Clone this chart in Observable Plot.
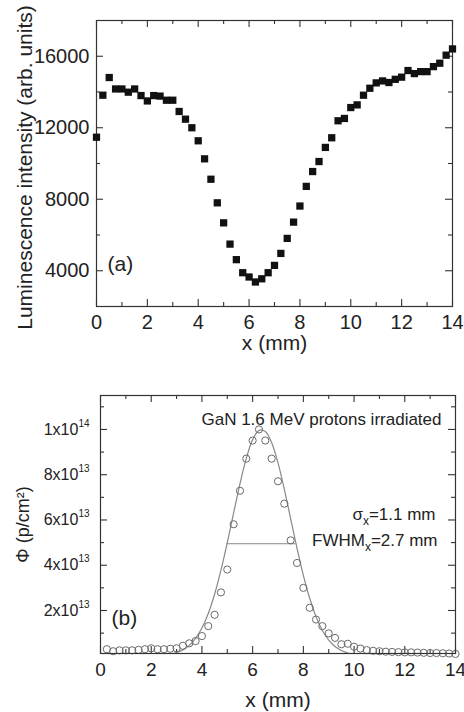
<!DOCTYPE html>
<html><head><meta charset="utf-8">
<script src="https://cdn.jsdelivr.net/npm/d3@7"></script>
<script src="https://cdn.jsdelivr.net/npm/@observablehq/plot@0.6"></script>
<style>
html,body{margin:0;padding:0;background:#fff;}
#chart{width:464px;}
#chart svg{display:block;}
</style></head><body><div id="chart"></div>
<script>
// ---- Panel (a): luminescence intensity profile ----
const xA = [0,0.25,0.5,0.75,1,1.25,1.5,1.75,2,2.25,2.5,2.75,3,3.25,3.5,3.75,4,4.25,4.5,4.75,5,5.25,5.5,5.75,6,6.25,6.5,6.75,7,7.25,7.5,7.75,8,8.25,8.5,8.75,9,9.25,9.5,9.75,10,10.25,10.5,10.75,11,11.25,11.5,11.75,12,12.25,12.5,12.75,13,13.25,13.5,13.75,14];
const yA = [11470,13820,14810,14170,14170,13990,14170,13800,13500,13800,13770,13540,13540,12910,12480,12000,11270,10260,9120,7800,6680,5490,4620,3890,3650,3370,3550,3890,4300,4970,5810,6720,7620,8720,9550,10110,10900,11440,12390,12520,13130,13280,13820,14210,14510,14620,14530,14710,14830,15200,15030,15140,15140,15420,15610,16060,16410];

// ---- Panel (b): fluence profile, values in units of 1e13 p/cm^2 ----
const xB = [0.25,0.5,0.75,1,1.25,1.5,1.75,2,2.25,2.5,2.75,3,3.25,3.5,3.75,4,4.25,4.5,4.75,5,5.25,5.5,5.75,6,6.25,6.5,6.75,7,7.25,7.5,7.75,8,8.25,8.5,8.75,9,9.25,9.5,9.75,10,10.25,10.5,10.75,11,11.25,11.5,11.75,12,12.25,12.5,12.75,13,13.25,13.5,13.75,14];
const phiB = [0.29,0.20,0.24,0.24,0.24,0.26,0.29,0.33,0.29,0.29,0.31,0.33,0.44,0.55,0.65,0.87,1.31,1.81,2.80,3.81,5.81,7.29,8.71,9.51,10.0,9.51,8.71,7.71,6.72,5.10,4.10,3.00,2.12,1.60,1.31,0.99,0.79,0.51,0.53,0.40,0.32,0.25,0.22,0.20,0.18,0.17,0.16,0.15,0.15,0.14,0.13,0.12,0.12,0.11,0.10,0.08];
// fitted curve
const xFit = [2.75,3,3.25,3.5,3.75,4,4.25,4.5,4.75,5,5.25,5.5,5.75,6,6.25,6.5,6.75,7,7.25,7.5,7.75,8,8.25,8.5,8.75,9,9.25,9.5,9.75,10];
const phiFit = [0.07,0.14,0.26,0.46,0.77,1.23,1.87,2.72,3.78,5.0,6.31,7.6,8.72,9.55,9.96,9.91,9.41,8.52,7.35,6.05,4.75,3.55,2.54,1.73,1.12,0.69,0.41,0.23,0.12,0.06];
const fwhmX = [5.0, 7.7];
const halfMax = 4.95;

// ---- ticks ----
const xTicksMajor = [0,2,4,6,8,10,12,14];
const xTicksMinor = [1,3,5,7,9,11,13];
const yTicksA = [4000,8000,12000,16000];
const yMinorA = [6000,10000,14000];
const yTicksB = [2,4,6,8,10];
const yTickLabelsB = ["2x10|13","4x10|13","6x10|13","8x10|13","1x10|14"];
const yMinorB = [1,3,5,7,9,11];

const FONT = "'Liberation Sans', Arial, Helvetica, sans-serif";
const INK = "#222";
const AXIS = "#333";

function frameTicks(fw, fh) {
  const o = {stroke: AXIS, strokeWidth: 1.1};
  return [
    Plot.ruleX(xTicksMajor, {x: d => d, insetTop: fh - 7, ...o}),
    Plot.ruleX(xTicksMajor, {x: d => d, insetBottom: fh - 7, ...o}),
    Plot.ruleX(xTicksMinor, {x: d => d, insetTop: fh - 4, ...o}),
    Plot.ruleX(xTicksMinor, {x: d => d, insetBottom: fh - 4, ...o})
  ];
}
function yFrameTicks(fw, major, minor) {
  const o = {stroke: AXIS, strokeWidth: 1.1};
  return [
    Plot.ruleY(major, {y: d => d, insetRight: fw - 7, ...o}),
    Plot.ruleY(major, {y: d => d, insetLeft: fw - 7, ...o}),
    Plot.ruleY(minor, {y: d => d, insetRight: fw - 4, ...o}),
    Plot.ruleY(minor, {y: d => d, insetLeft: fw - 4, ...o})
  ];
}

// Panel (a)
const mA = {top: 20, right: 12, bottom: 50, left: 96};
const WA = 464, HA = 356;
const fwA = WA - mA.left - mA.right, fhA = HA - mA.top - mA.bottom;
const dataA = xA.map((x, i) => ({x, y: yA[i]}));

const plotA = Plot.plot({
  width: WA, height: HA,
  marginTop: mA.top, marginRight: mA.right, marginBottom: mA.bottom, marginLeft: mA.left,
  style: {fontFamily: FONT, color: INK, background: "#fff"},
  x: {domain: [0, 14], axis: null},
  y: {domain: [2000, 18000], axis: null},
  marks: [
    ...frameTicks(fwA, fhA),
    ...yFrameTicks(fwA, yTicksA, yMinorA),
    Plot.frame({stroke: AXIS, strokeWidth: 1.2}),
    Plot.dot(dataA, {x: "x", y: "y", symbol: "square", r: 4.1, fill: "#111", stroke: "none"}),
    Plot.text(xTicksMajor, {x: d => d, text: d => String(d), frameAnchor: "bottom", dy: 22, fontSize: 20, fill: INK}),
    Plot.text(yTicksA, {y: d => d, text: d => String(d), frameAnchor: "left", textAnchor: "end", dx: -7, fontSize: 20, fill: INK}),
    Plot.text(["x (mm)"], {text: d => d, frameAnchor: "bottom", textAnchor: "middle", dy: 43, fontSize: 21, fill: INK}),
    Plot.text(["Luminescence intensity (arb. units)"], {text: d => d, frameAnchor: "left", textAnchor: "middle", rotate: -90, dx: -71, dy: 4, fontSize: 21, fill: INK}),
    Plot.text(["(a)"], {text: d => d, frameAnchor: "bottom-left", textAnchor: "start", dx: 11, dy: -36, fontSize: 21, fill: INK})
  ]
});

// Panel (b)
const mB = {top: 39, right: 9, bottom: 59, left: 100};
const WB = 464, HB = 356;
const fwB = WB - mB.left - mB.right, fhB = HB - mB.top - mB.bottom;
const dataB = xB.map((x, i) => ({x, y: phiB[i]}));
const fitB = xFit.map((x, i) => ({x, y: phiFit[i]}));

const plotB = Plot.plot({
  width: WB, height: HB,
  marginTop: mB.top, marginRight: mB.right, marginBottom: mB.bottom, marginLeft: mB.left,
  style: {fontFamily: FONT, color: INK, background: "#fff"},
  x: {domain: [0, 14], axis: null},
  y: {domain: [0.1, 11.5], axis: null},
  marks: [
    ...frameTicks(fwB, fhB),
    ...yFrameTicks(fwB, yTicksB, yMinorB),
    Plot.line(fitB, {x: "x", y: "y", curve: "catmull-rom", stroke: "#888", strokeWidth: 1.2, clip: true}),
    Plot.ruleY([halfMax], {x1: fwhmX[0], x2: fwhmX[1], stroke: "#888", strokeWidth: 1}),
    Plot.dot(dataB, {x: "x", y: "y", r: 3.6, stroke: "#6a6a6a", fill: "none", strokeWidth: 1}),
    Plot.frame({stroke: AXIS, strokeWidth: 1.2}),
    Plot.text(xTicksMajor, {x: d => d, text: d => String(d), frameAnchor: "bottom", dy: 22, fontSize: 19, fill: INK}),
    Plot.text(yTicksB, {y: d => d, text: (d, i) => yTickLabelsB[i], frameAnchor: "left", textAnchor: "end", dx: -11, fontSize: 16, fill: INK}),
    Plot.text(["x (mm)"], {text: d => d, frameAnchor: "bottom", textAnchor: "middle", dy: 53, fontSize: 21, fill: INK}),
    Plot.text(["\u03A6 (p/cm\u00B2)"], {text: d => d, frameAnchor: "left", textAnchor: "middle", rotate: -90, dx: -77, fontSize: 18, fill: INK}),
    Plot.text(["GaN 1.6 MeV protons irradiated"], {text: d => d, frameAnchor: "top-right", textAnchor: "end", dx: -14, dy: 17, fontSize: 17, fill: INK}),
    Plot.text(["\u03C3_x=1.1 mm"], {text: d => d, frameAnchor: "right", textAnchor: "end", dx: -20, dy: -10, fontSize: 17, fill: INK}),
    Plot.text(["FWHM_x=2.7 mm"], {text: d => d, frameAnchor: "right", textAnchor: "end", dx: -18, dy: 16, fontSize: 17, fill: INK}),
    Plot.text(["(b)"], {text: d => d, frameAnchor: "bottom-left", textAnchor: "start", dx: 11, dy: -29, fontSize: 21, fill: INK})
  ]
});

// superscripts / subscripts as real text
d3.select(plotB).selectAll("text").each(function() {
  const t = this.textContent;
  const sel = d3.select(this);
  if (t.includes("|")) {
    const [base, sup] = t.split("|");
    sel.text(null);
    sel.append("tspan").text(base);
    sel.append("tspan").attr("dy", -8).attr("font-size", 10).text(sup);
  } else if (t.includes("_x")) {
    const [a, b] = t.split("_x");
    sel.text(null);
    sel.append("tspan").text(a);
    sel.append("tspan").attr("dy", 5).attr("font-size", 12).text("x");
    sel.append("tspan").attr("dy", -5).text(b);
  }
});

document.getElementById("chart").append(plotA, plotB);
</script>
</body></html>
